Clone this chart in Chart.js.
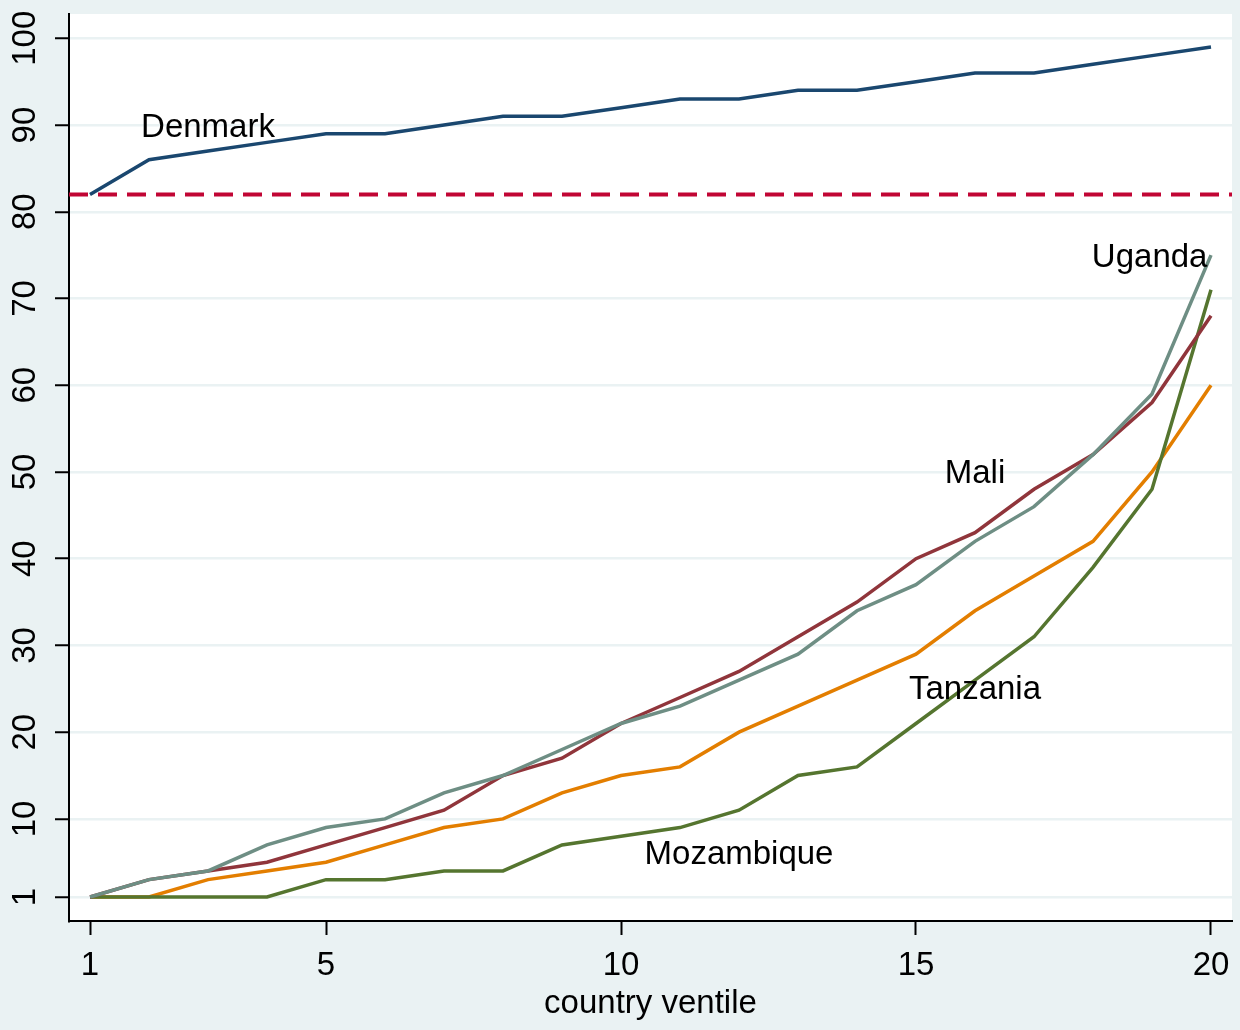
<!DOCTYPE html>
<html>
<head>
<meta charset="utf-8">
<script src="https://cdn.jsdelivr.net/npm/chart.js@4/dist/chart.umd.min.js"></script>
<style>
html,body{margin:0;padding:0;background:#EAF2F3;}
#c{display:block;}
</style>
</head>
<body>
<canvas id="c" width="1240" height="1030"></canvas>
<script>
// ---- data ----
const ventiles = [1,2,3,4,5,6,7,8,9,10,11,12,13,14,15,16,17,18,19,20];
const denmark    = [82,86,87,88,89,89,90,91,91,92,93,93,94,94,95,96,96,97,98,99];
const uganda     = [1,3,4,7,9,10,13,15,18,21,23,26,29,34,37,42,46,52,59,75];
const mali       = [1,3,4,5,7,9,11,15,17,21,24,27,31,35,40,43,48,52,58,68];
const tanzania   = [1,1,3,4,5,7,9,10,13,15,16,20,23,26,29,34,38,42,50,60];
const mozambique = [1,1,1,1,3,3,4,4,7,8,9,11,15,16,21,26,31,39,48,71];
const referenceLine = 82;
const xTicks = [1,5,10,15,20];
const yTicks = [1,10,20,30,40,50,60,70,80,90,100];
const xTitle = "country ventile";
const labelTexts = ["Denmark","Uganda","Mali","Tanzania","Mozambique"];
const labelX = [3.0, 18.96, 16.0, 16.0, 12.0];
const labelY = [89.7, 74.7, 49.8, 24.9, 5.8];

// ---- layout / style ----
const X_MIN = 0.644, X_MAX = 20.356;
const Y_MIN = -1.77, Y_MAX = 102.8;
const FONT = '"Liberation Sans", Arial, Helvetica, sans-serif';
const BG = '#EAF2F3';

const toXY = arr => arr.map((v, i) => ({x: ventiles[i], y: v}));

const bgPlugin = {
  id: 'bg',
  beforeDraw(chart) {
    const {ctx, chartArea: a} = chart;
    ctx.save();
    ctx.fillStyle = BG;
    ctx.fillRect(0, 0, chart.width, chart.height);
    ctx.fillStyle = '#FFFFFF';
    ctx.fillRect(a.left, a.top, a.right - a.left, a.bottom - a.top);
    ctx.restore();
  }
};

const labelPlugin = {
  id: 'lineLabels',
  afterDatasetsDraw(chart) {
    const {ctx, scales: {x, y}} = chart;
    ctx.save();
    ctx.font = '33px ' + FONT;
    ctx.fillStyle = '#000000';
    ctx.textAlign = 'center';
    ctx.textBaseline = 'middle';
    labelTexts.forEach((t, i) => {
      ctx.fillText(t, x.getPixelForValue(labelX[i]), y.getPixelForValue(labelY[i]));
    });
    ctx.restore();
  }
};

const lineDs = (label, data, color) => ({
  label, data: toXY(data), borderColor: color, borderWidth: 3.5,
  pointRadius: 0, tension: 0, fill: false
});

new Chart(document.getElementById('c'), {
  type: 'line',
  data: {
    datasets: [
      lineDs('Denmark', denmark, '#1A476F'),
      lineDs('Uganda', uganda, '#6E8E84'),
      lineDs('Mali', mali, '#90353B'),
      lineDs('Mozambique', mozambique, '#55752F'),
      lineDs('Tanzania', tanzania, '#E37E00'),
      {
        label: 'ref', data: [{x: X_MIN, y: referenceLine}, {x: X_MAX, y: referenceLine}],
        borderColor: '#C10534', borderWidth: 4, borderDash: [19, 10],
        pointRadius: 0, tension: 0, fill: false
      }
    ]
  },
  options: {
    responsive: false,
    animation: false,
    devicePixelRatio: 1,
    layout: {padding: {left: 0, top: 14, right: 8, bottom: 0}},
    plugins: {legend: {display: false}, tooltip: {enabled: false}},
    scales: {
      x: {
        type: 'linear', min: X_MIN, max: X_MAX,
        afterBuildTicks: s => { s.ticks = xTicks.map(v => ({value: v})); },
        afterFit: s => { s.height = 109; s.paddingLeft = 0; s.paddingRight = 0; },
        grid: {drawOnChartArea: false, drawTicks: true, tickLength: 14, tickColor: '#000', tickWidth: 2},
        border: {display: true, color: '#000', width: 2},
        ticks: {font: {family: FONT, size: 33}, color: '#000', padding: 11, maxRotation: 0, minRotation: 0, autoSkip: false},
        title: {display: true, text: xTitle, color: '#000', font: {family: FONT, size: 33, lineHeight: 1.2}, padding: {top: 0, bottom: 6}}
      },
      y: {
        type: 'linear', min: Y_MIN, max: Y_MAX,
        afterBuildTicks: s => { s.ticks = yTicks.map(v => ({value: v})); },
        afterFit: s => { s.width = 69; s.paddingTop = 0; s.paddingBottom = 0; },
        grid: {drawOnChartArea: true, color: BG, lineWidth: 2.5, drawTicks: true, tickLength: 14, tickColor: '#000', tickWidth: 2},
        border: {display: true, color: '#000', width: 2},
        ticks: {font: {family: FONT, size: 33}, color: '#000', padding: 2, minRotation: 90, maxRotation: 90, crossAlign: 'center', autoSkip: false}
      }
    }
  },
  plugins: [bgPlugin, labelPlugin]
});
</script>
</body>
</html>
